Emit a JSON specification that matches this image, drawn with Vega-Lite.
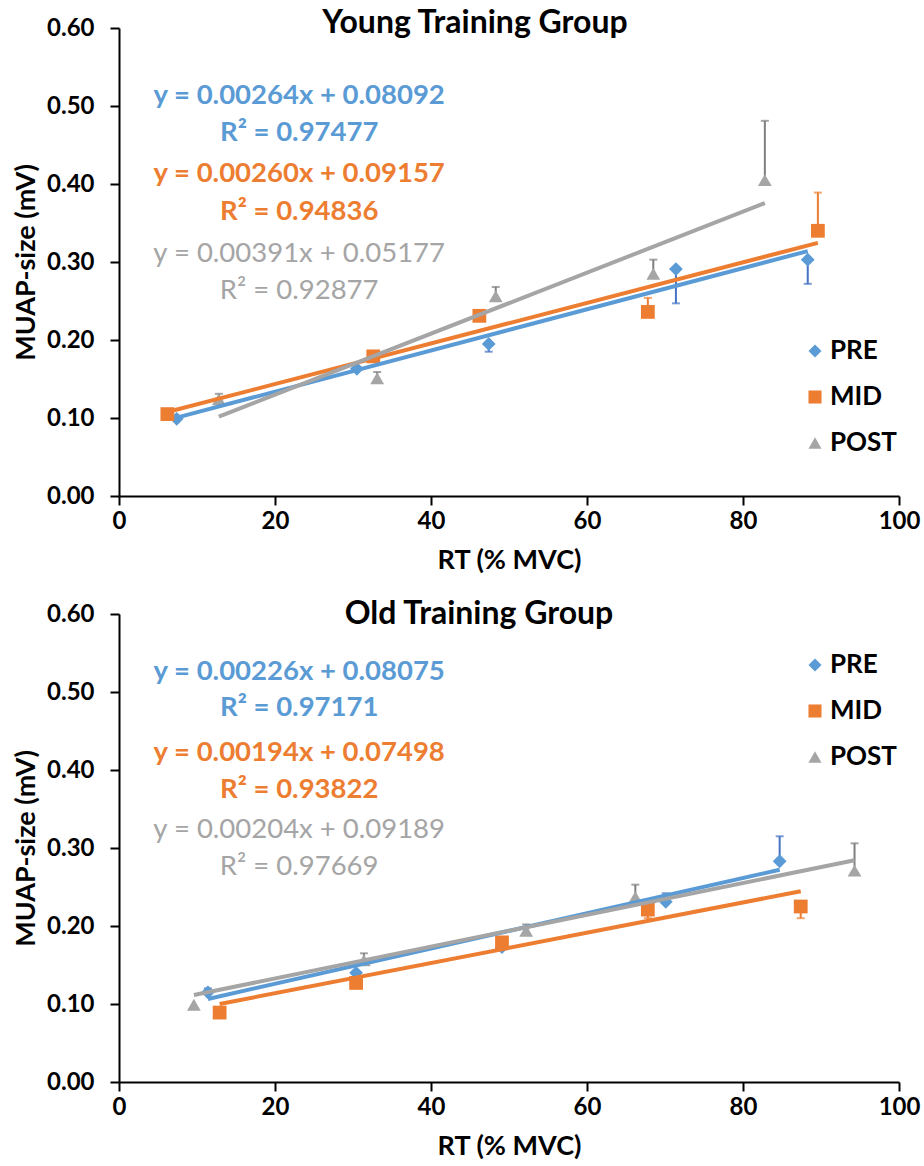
{
  "$schema": "https://vega.github.io/schema/vega-lite/v6.json",
  "padding": {"top": 7, "left": 12, "right": 5, "bottom": 0},
  "spacing": 25,
  "config": {
    "font": "Lato",
    "view": {"stroke": null},
    "axis": {
      "grid": false,
      "domainColor": "black",
      "domainWidth": 2,
      "tickColor": "black",
      "tickWidth": 2,
      "tickSize": 9,
      "labelFont": "Lato",
      "labelFontSize": 24,
      "labelFontWeight": "bold",
      "labelColor": "black",
      "labelFlush": false,
      "titleFont": "Lato",
      "titleFontSize": 27,
      "titleFontWeight": "bold",
      "titleColor": "black"
    },
    "legend": {
      "labelFont": "Lato",
      "labelFontSize": 26,
      "labelFontWeight": "bold",
      "labelColor": "black",
      "symbolSize": 170,
      "symbolStrokeWidth": 0,
      "rowPadding": 20,
      "labelOffset": 2
    }
  },
  "resolve": {
    "scale": {"color": "independent", "shape": "independent"},
    "legend": {"color": "independent", "shape": "independent"}
  },
  "datasets": {
    "points_young": [
      {"series": "PRE", "rt": 7.4, "muap": 0.099},
      {"series": "PRE", "rt": 30.5, "muap": 0.163},
      {"series": "PRE", "rt": 47.4, "muap": 0.195, "err": 0.185},
      {"series": "PRE", "rt": 71.4, "muap": 0.291, "err": 0.247},
      {"series": "PRE", "rt": 88.3, "muap": 0.303, "err": 0.272},
      {"series": "MID", "rt": 6.2, "muap": 0.105},
      {"series": "MID", "rt": 32.6, "muap": 0.179},
      {"series": "MID", "rt": 46.2, "muap": 0.231, "err": 0.236},
      {"series": "MID", "rt": 67.8, "muap": 0.236, "err": 0.254},
      {"series": "MID", "rt": 89.6, "muap": 0.340, "err": 0.389},
      {"series": "POST", "rt": 12.8, "muap": 0.124, "err": 0.131},
      {"series": "POST", "rt": 33.1, "muap": 0.151, "err": 0.159},
      {"series": "POST", "rt": 48.3, "muap": 0.256, "err": 0.268},
      {"series": "POST", "rt": 68.5, "muap": 0.285, "err": 0.303},
      {"series": "POST", "rt": 82.8, "muap": 0.405, "err": 0.481}
    ],
    "trend_young": [
      {"series": "PRE", "rt": 7.4, "muap": 0.1005},
      {"series": "PRE", "rt": 88.3, "muap": 0.3140},
      {"series": "MID", "rt": 6.2, "muap": 0.1077},
      {"series": "MID", "rt": 89.6, "muap": 0.3245},
      {"series": "POST", "rt": 12.8, "muap": 0.1018},
      {"series": "POST", "rt": 82.8, "muap": 0.3755}
    ],
    "eq_young": [
      {"series": "PRE", "label": "y = 0.00264x + 0.08092", "rt": 23.1, "muap": 0.513},
      {"series": "PRE", "label": "R² = 0.97477", "rt": 23.1, "muap": 0.465},
      {"series": "MID", "label": "y = 0.00260x + 0.09157", "rt": 23.1, "muap": 0.413},
      {"series": "MID", "label": "R² = 0.94836", "rt": 23.1, "muap": 0.364},
      {"series": "POST", "label": "y = 0.00391x + 0.05177", "rt": 23.1, "muap": 0.310},
      {"series": "POST", "label": "R² = 0.92877", "rt": 23.1, "muap": 0.263}
    ],
    "points_old": [
      {"series": "PRE", "rt": 11.4, "muap": 0.115, "err": 0.120},
      {"series": "PRE", "rt": 30.4, "muap": 0.140},
      {"series": "PRE", "rt": 49.1, "muap": 0.173},
      {"series": "PRE", "rt": 70.1, "muap": 0.231, "err": 0.242},
      {"series": "PRE", "rt": 84.7, "muap": 0.283, "err": 0.315},
      {"series": "MID", "rt": 12.9, "muap": 0.089},
      {"series": "MID", "rt": 30.4, "muap": 0.127},
      {"series": "MID", "rt": 49.1, "muap": 0.179},
      {"series": "MID", "rt": 67.8, "muap": 0.221, "err": 0.210},
      {"series": "MID", "rt": 87.4, "muap": 0.225, "err": 0.210},
      {"series": "POST", "rt": 9.6, "muap": 0.099},
      {"series": "POST", "rt": 31.4, "muap": 0.156, "err": 0.165},
      {"series": "POST", "rt": 52.2, "muap": 0.194, "err": 0.202},
      {"series": "POST", "rt": 66.2, "muap": 0.237, "err": 0.253},
      {"series": "POST", "rt": 94.3, "muap": 0.271, "err": 0.306}
    ],
    "trend_old": [
      {"series": "PRE", "rt": 11.4, "muap": 0.1065},
      {"series": "PRE", "rt": 84.7, "muap": 0.2722},
      {"series": "MID", "rt": 12.9, "muap": 0.1000},
      {"series": "MID", "rt": 87.4, "muap": 0.2445},
      {"series": "POST", "rt": 9.6, "muap": 0.1115},
      {"series": "POST", "rt": 94.3, "muap": 0.2843}
    ],
    "eq_old": [
      {"series": "PRE", "label": "y = 0.00226x + 0.08075", "rt": 23.1, "muap": 0.526},
      {"series": "PRE", "label": "R² = 0.97171", "rt": 23.1, "muap": 0.479},
      {"series": "MID", "label": "y = 0.00194x + 0.07498", "rt": 23.1, "muap": 0.422},
      {"series": "MID", "label": "R² = 0.93822", "rt": 23.1, "muap": 0.374},
      {"series": "POST", "label": "y = 0.00204x + 0.09189", "rt": 23.1, "muap": 0.323},
      {"series": "POST", "label": "R² = 0.97669", "rt": 23.1, "muap": 0.276}
    ]
  },
  "vconcat": [
    {
      "title": {"text": "Young Training Group", "font": "Lato", "fontSize": 32, "fontWeight": "bold", "color": "black", "anchor": "middle", "frame": "group", "offset": -24, "dx": -34},
      "width": 780,
      "height": 468,
      "encoding": {
        "x": {"field": "rt", "type": "quantitative", "scale": {"domain": [0, 100], "nice": false}, "axis": {"values": [0, 20, 40, 60, 80, 100], "title": "RT (% MVC)", "labelPadding": 4, "titlePadding": 14}},
        "y": {"field": "muap", "type": "quantitative", "scale": {"domain": [0, 0.6], "nice": false}, "axis": {"values": [0, 0.1, 0.2, 0.3, 0.4, 0.5, 0.6], "format": ".2f", "title": "MUAP-size (mV)", "labelPadding": 16, "titlePadding": 6}}
      },
      "layer": [
        {
          "data": {"name": "points_young"},
          "transform": [{"filter": "isValid(datum.err)"}],
          "mark": {"type": "rule", "strokeWidth": 2},
          "encoding": {
            "y2": {"field": "err"},
            "color": {"condition": [{"test": "datum.series === 'PRE'", "value": "#4472C4"}, {"test": "datum.series === 'MID'", "value": "#ED7D31"}], "value": "#7F7F7F"}
          }
        },
        {
          "data": {"name": "points_young"},
          "transform": [{"filter": "isValid(datum.err)"}],
          "mark": {"type": "tick", "orient": "horizontal", "size": 8, "thickness": 2},
          "encoding": {
            "y": {"field": "err", "type": "quantitative"},
            "color": {"condition": [{"test": "datum.series === 'PRE'", "value": "#4472C4"}, {"test": "datum.series === 'MID'", "value": "#ED7D31"}], "value": "#7F7F7F"}
          }
        },
        {
          "data": {"name": "points_young"},
          "mark": {"type": "point", "filled": true, "opacity": 1, "size": 190},
          "encoding": {
            "color": {"field": "series", "type": "nominal", "scale": {"domain": ["PRE", "MID", "POST"], "range": ["#5B9BD5", "#ED7D31", "#A5A5A5"]}, "legend": {"title": null, "orient": "none", "legendX": 683, "legendY": 310}},
            "shape": {"field": "series", "type": "nominal", "scale": {"domain": ["PRE", "MID", "POST"], "range": ["diamond", "square", "triangle-up"]}, "legend": {"title": null, "orient": "none", "legendX": 683, "legendY": 310}}
          }
        },
        {
          "data": {"name": "trend_young"},
          "mark": {"type": "line", "strokeWidth": 4},
          "encoding": {
            "detail": {"field": "series"},
            "color": {"condition": [{"test": "datum.series === 'PRE'", "value": "#5B9BD5"}, {"test": "datum.series === 'MID'", "value": "#ED7D31"}], "value": "#A5A5A5"}
          }
        },
        {
          "data": {"name": "eq_young"},
          "transform": [{"filter": "datum.series !== 'POST'"}],
          "mark": {"type": "text", "font": "Lato", "fontSize": 27.5, "fontWeight": "bold", "align": "center", "baseline": "middle"},
          "encoding": {
            "text": {"field": "label"},
            "color": {"condition": {"test": "datum.series === 'PRE'", "value": "#5B9BD5"}, "value": "#ED7D31"}
          }
        },
        {
          "data": {"name": "eq_young"},
          "transform": [{"filter": "datum.series === 'POST'"}],
          "mark": {"type": "text", "font": "Lato", "fontSize": 27.5, "fontWeight": "normal", "align": "center", "baseline": "middle", "color": "#A5A5A5"},
          "encoding": {
            "text": {"field": "label"}
          }
        }
      ]
    },
    {
      "title": {"text": "Old Training Group", "font": "Lato", "fontSize": 32, "fontWeight": "bold", "color": "black", "anchor": "middle", "frame": "group", "offset": -29, "dx": -30},
      "width": 780,
      "height": 468,
      "encoding": {
        "x": {"field": "rt", "type": "quantitative", "scale": {"domain": [0, 100], "nice": false}, "axis": {"values": [0, 20, 40, 60, 80, 100], "title": "RT (% MVC)", "labelPadding": 4, "titlePadding": 14}},
        "y": {"field": "muap", "type": "quantitative", "scale": {"domain": [0, 0.6], "nice": false}, "axis": {"values": [0, 0.1, 0.2, 0.3, 0.4, 0.5, 0.6], "format": ".2f", "title": "MUAP-size (mV)", "labelPadding": 16, "titlePadding": 6}}
      },
      "layer": [
        {
          "data": {"name": "points_old"},
          "transform": [{"filter": "isValid(datum.err)"}],
          "mark": {"type": "rule", "strokeWidth": 2},
          "encoding": {
            "y2": {"field": "err"},
            "color": {"condition": [{"test": "datum.series === 'PRE'", "value": "#4472C4"}, {"test": "datum.series === 'MID'", "value": "#ED7D31"}], "value": "#7F7F7F"}
          }
        },
        {
          "data": {"name": "points_old"},
          "transform": [{"filter": "isValid(datum.err)"}],
          "mark": {"type": "tick", "orient": "horizontal", "size": 8, "thickness": 2},
          "encoding": {
            "y": {"field": "err", "type": "quantitative"},
            "color": {"condition": [{"test": "datum.series === 'PRE'", "value": "#4472C4"}, {"test": "datum.series === 'MID'", "value": "#ED7D31"}], "value": "#7F7F7F"}
          }
        },
        {
          "data": {"name": "points_old"},
          "mark": {"type": "point", "filled": true, "opacity": 1, "size": 190},
          "encoding": {
            "color": {"field": "series", "type": "nominal", "scale": {"domain": ["PRE", "MID", "POST"], "range": ["#5B9BD5", "#ED7D31", "#A5A5A5"]}, "legend": {"title": null, "orient": "none", "legendX": 683, "legendY": 38}},
            "shape": {"field": "series", "type": "nominal", "scale": {"domain": ["PRE", "MID", "POST"], "range": ["diamond", "square", "triangle-up"]}, "legend": {"title": null, "orient": "none", "legendX": 683, "legendY": 38}}
          }
        },
        {
          "data": {"name": "trend_old"},
          "mark": {"type": "line", "strokeWidth": 4},
          "encoding": {
            "detail": {"field": "series"},
            "color": {"condition": [{"test": "datum.series === 'PRE'", "value": "#5B9BD5"}, {"test": "datum.series === 'MID'", "value": "#ED7D31"}], "value": "#A5A5A5"}
          }
        },
        {
          "data": {"name": "eq_old"},
          "transform": [{"filter": "datum.series !== 'POST'"}],
          "mark": {"type": "text", "font": "Lato", "fontSize": 27.5, "fontWeight": "bold", "align": "center", "baseline": "middle"},
          "encoding": {
            "text": {"field": "label"},
            "color": {"condition": {"test": "datum.series === 'PRE'", "value": "#5B9BD5"}, "value": "#ED7D31"}
          }
        },
        {
          "data": {"name": "eq_old"},
          "transform": [{"filter": "datum.series === 'POST'"}],
          "mark": {"type": "text", "font": "Lato", "fontSize": 27.5, "fontWeight": "normal", "align": "center", "baseline": "middle", "color": "#A5A5A5"},
          "encoding": {
            "text": {"field": "label"}
          }
        }
      ]
    }
  ]
}
